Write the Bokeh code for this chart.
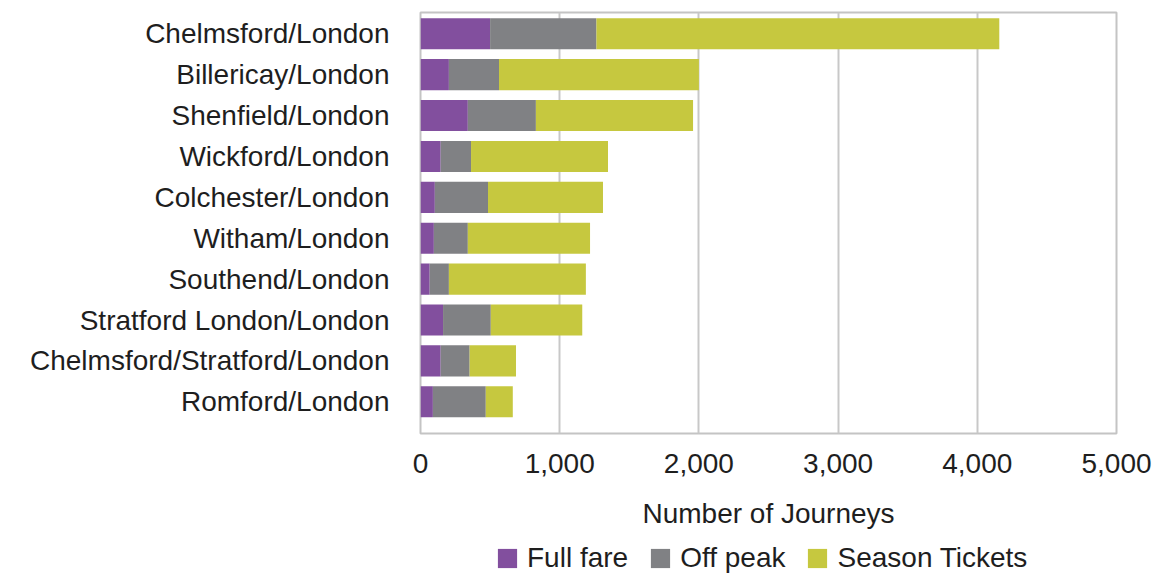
from bokeh.plotting import figure
from bokeh.layouts import column
from bokeh.models import ColumnDataSource, Range1d, FixedTicker, NumeralTickFormatter, Legend, LegendItem
from bokeh.embed import file_html
from bokeh.resources import INLINE

# Data (top to bottom as in the chart)
categories = ["Chelmsford/London", "Billericay/London", "Shenfield/London", "Wickford/London",
              "Colchester/London", "Witham/London", "Southend/London", "Stratford London/London",
              "Chelmsford/Stratford/London", "Romford/London"]
full_fare = [500, 204, 340, 145, 103, 96, 66, 162, 145, 89]
off_peak = [764, 360, 489, 218, 382, 244, 138, 343, 208, 380]
season_tickets = [2894, 1436, 1129, 984, 826, 878, 984, 657, 333, 194]
series_names = ["Full fare", "Off peak", "Season Tickets"]
x_ticks = [0, 1000, 2000, 3000, 4000, 5000]

colors = ["#824F9E", "#808184", "#C6C83F"]
FONT = "Liberation Sans"
TXT = "#1e1e1e"

n = len(categories)
ypos = [n - 1 - i for i in range(n)]
source = ColumnDataSource(dict(y=ypos, full=full_fare, off=off_peak, season=season_tickets))

p = figure(width=1155, height=540, output_backend="svg", toolbar_location=None,
           x_range=Range1d(0, 5000), y_range=Range1d(-0.775, n - 1 + 0.52),
           min_border_left=420, min_border_right=39, min_border_top=12, min_border_bottom=107)

renderers = p.hbar_stack(["full", "off", "season"], y="y", height=0.76, color=colors,
                         line_color=None, source=source)

p.outline_line_color = "#c4c4c4"
p.outline_line_width = 2

# x axis
xa = p.xaxis[0]
xa.ticker = FixedTicker(ticks=x_ticks)
xa.formatter = NumeralTickFormatter(format="0,0")
xa.axis_line_color = None
xa.major_tick_line_color = None
xa.minor_tick_line_color = None
xa.major_label_standoff = 14
xa.major_label_text_font = FONT
xa.major_label_text_font_size = "28px"
xa.major_label_text_color = TXT
xa.axis_label = "Number of Journeys"
xa.axis_label_text_font = FONT
xa.axis_label_text_font_size = "28px"
xa.axis_label_text_font_style = "normal"
xa.axis_label_text_color = TXT
xa.axis_label_standoff = 22

# y axis
ya = p.yaxis[0]
ya.ticker = FixedTicker(ticks=ypos)
ya.major_label_overrides = {yv: c for yv, c in zip(ypos, categories)}
ya.axis_line_color = None
ya.major_tick_line_color = None
ya.minor_tick_line_color = None
ya.major_label_standoff = 25
ya.major_label_text_font = FONT
ya.major_label_text_font_size = "28px"
ya.major_label_text_color = TXT

p.xgrid.grid_line_color = "#c8c8c8"
p.xgrid.grid_line_width = 2
p.xgrid.ticker = FixedTicker(ticks=x_ticks)
p.ygrid.grid_line_color = None

# Legend strip below the chart (its frame aligns with the chart's frame in the column)
lg = figure(width=1155, height=35, output_backend="svg", toolbar_location=None,
            x_range=Range1d(0, 1), y_range=Range1d(0, 1),
            x_axis_location=None, y_axis_location=None,
            min_border_left=420, min_border_right=39, min_border_top=0, min_border_bottom=0)
lg.outline_line_color = None
lg.xgrid.visible = False
lg.ygrid.visible = False
dummy = ColumnDataSource(dict(y=[-10], r=[-10]))
items = []
for nm, c in zip(series_names, colors):
    r = lg.hbar(y="y", right="r", height=0.5, fill_color=c, line_color=None, source=dummy)
    items.append(LegendItem(label=nm, renderers=[r]))

legend = Legend(items=items, orientation="horizontal", location=(75, 1))
legend.label_text_font = FONT
legend.label_text_font_size = "28px"
legend.label_text_color = TXT
legend.glyph_width = 24
legend.glyph_height = 24
legend.label_standoff = 8
legend.spacing = 20
legend.padding = 0
legend.margin = 0
legend.border_line_color = None
legend.background_fill_alpha = 0
lg.add_layout(legend, "center")

layout = column(p, lg, spacing=0)
open("out.html", "w").write(file_html(layout, INLINE))
